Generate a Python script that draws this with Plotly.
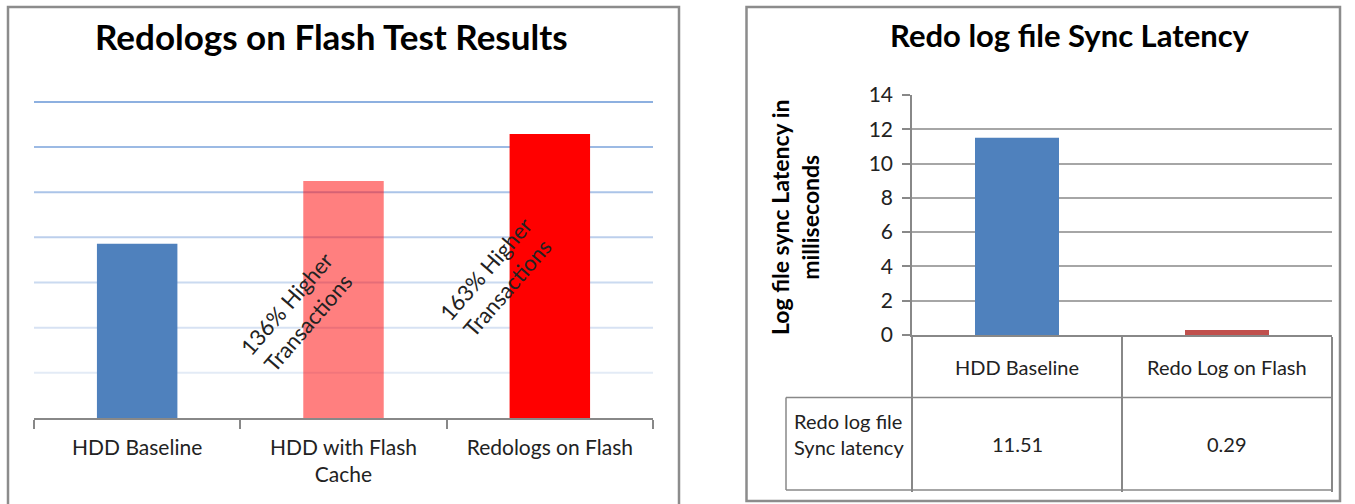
import plotly.graph_objects as go

# ---------------- data ----------------
left_title = "Redologs on Flash Test Results"
left_categories = ["HDD Baseline", "HDD with Flash<br>Cache", "Redologs on Flash"]
left_values = [3.86, 5.25, 6.29]
left_colors = ["#4F81BD", "rgba(255,0,0,0.5)", "#FF0000"]
left_gridvals = [1, 2, 3, 4, 5, 6, 7]
left_gridcolors = ["#E3EBF6", "#D7E2F3", "#CADAF0", "#BCCFEC", "#ABC4E8", "#9CBAE4", "#8DB0E0"]
note_categories = ["HDD with Flash<br>Cache", "Redologs on Flash"]
note_texts = ["136% Higher<br>Transactions", "163% Higher<br>Transactions"]
note_y = [2.32, 3.10]
note_xshift = [-46, -53]

right_title = "Redo log file Sync Latency"
right_categories = ["HDD Baseline", "Redo Log on Flash"]
right_values = [11.51, 0.29]
right_colors = ["#4F81BD", "#C0504D"]
right_ytitle = "Log file sync Latency in<br>milliseconds"
table_row_label = "Redo log file<br>Sync latency"

W, H = 1355, 504
def px(x):
    return x / W
def py(y):
    return 1 - y / H

FONT = "Lato"
TXT = "#222222"
AX = "#888888"

fig = go.Figure()

fig.add_trace(go.Bar(
    x=left_categories, y=left_values, marker=dict(color=left_colors, line=dict(width=0)),
    width=0.39, xaxis="x", yaxis="y", showlegend=False, hoverinfo="x+y"))

fig.add_trace(go.Bar(
    x=right_categories, y=right_values, marker=dict(color=right_colors, line=dict(width=0)),
    width=0.4, xaxis="x2", yaxis="y2", showlegend=False, hoverinfo="x+y"))

shapes = []
for v, c in zip(left_gridvals, left_gridcolors):
    shapes.append(dict(type="line", xref="x domain", yref="y", x0=0, x1=1, y0=v, y1=v,
                       line=dict(color=c, width=2), layer="below"))
shapes.append(dict(type="rect", xref="paper", yref="paper", x0=px(8), x1=px(679), y0=py(7), y1=py(520),
                   line=dict(color="#8C8C8C", width=2.5), layer="below"))
shapes.append(dict(type="rect", xref="paper", yref="paper", x0=px(746.5), x1=px(1340), y0=py(7), y1=py(501),
                   line=dict(color="#8C8C8C", width=2.5), layer="below"))
for yy in [397.5, 490]:
    shapes.append(dict(type="line", xref="paper", yref="paper", x0=px(786), x1=px(1332), y0=py(yy), y1=py(yy),
                       line=dict(color=AX, width=1.5)))
shapes.append(dict(type="line", xref="paper", yref="paper", x0=px(786), x1=px(786), y0=py(397.5), y1=py(490),
                   line=dict(color=AX, width=1.5)))

annotations = []
def ann(**kw):
    kw.setdefault("showarrow", False)
    kw.setdefault("xanchor", "center")
    kw.setdefault("yanchor", "middle")
    annotations.append(kw)

ann(text="<b>%s</b>" % left_title, xref="paper", yref="paper", x=px(331), y=py(36),
    font=dict(family=FONT, size=35, color="#000000"))
ann(text="<b>%s</b>" % right_title, xref="paper", yref="paper", x=px(1070), y=py(35),
    font=dict(family=FONT, size=31, color="#000000"))
for cat, t, yv, xs in zip(note_categories, note_texts, note_y, note_xshift):
    ann(text=t, x=cat, y=yv, xref="x", yref="y", xshift=xs, textangle=-49, align="center",
        font=dict(family=FONT, size=22, color=TXT))
ann(text="<b>%s</b>" % right_ytitle.replace("<br>", "</b><br><b>"), xref="paper", yref="paper",
    x=px(795), y=py(218), textangle=-90, align="center",
    font=dict(family=FONT, size=23, color="#000000"))
for cat in right_categories:
    ann(text=cat, x=cat, xref="x2", yref="paper", y=py(367),
        font=dict(family=FONT, size=20, color=TXT))
for cat, v in zip(right_categories, right_values):
    ann(text="%.2f" % v, x=cat, xref="x2", yref="paper", y=py(444),
        font=dict(family=FONT, size=20, color=TXT))
ann(text=table_row_label, xref="paper", yref="paper", x=px(792), y=py(434),
    xanchor="left", align="left", font=dict(family=FONT, size=20, color=TXT))

fig.update_layout(
    template="none",
    width=W, height=H, margin=dict(l=0, r=0, t=0, b=0, pad=0, autoexpand=False),
    paper_bgcolor="white", plot_bgcolor="white",
    xaxis=dict(domain=[px(34), px(653)], anchor="y", type="category", automargin=False,
               showline=True, linecolor=AX, linewidth=1.5,
               ticks="outside", tickson="boundaries", ticklen=9, tickcolor=AX, tickwidth=1.5,
               ticklabelstandoff=10,
               tickfont=dict(family=FONT, size=21, color=TXT), showgrid=False),
    yaxis=dict(domain=[py(418), py(101)], anchor="x", range=[0, 7.02], automargin=False,
               showticklabels=False, showgrid=False, zeroline=False, showline=False, ticks=""),
    xaxis2=dict(domain=[px(912), px(1332)], anchor="y2", type="category", automargin=False,
                showline=True, linecolor=AX, linewidth=1.5,
                showticklabels=False, ticks="outside", tickson="boundaries", ticklen=155,
                tickcolor=AX, tickwidth=1.5, showgrid=False),
    yaxis2=dict(domain=[py(335), py(95)], anchor="x2", range=[0, 14], dtick=2, automargin=False,
                showgrid=True, gridcolor="#A6A6A6", gridwidth=1.5, zeroline=False,
                showline=True, linecolor=AX, linewidth=1.5,
                ticks="outside", ticklen=8, tickcolor=AX, tickwidth=1.5, ticklabelstandoff=5,
                tickfont=dict(family=FONT, size=21, color=TXT)),
    shapes=shapes, annotations=annotations,
)

fig.write_html("out.html", config={"displayModeBar": False},
               post_script="document.body.style.margin='0';document.body.style.overflow='hidden';")
